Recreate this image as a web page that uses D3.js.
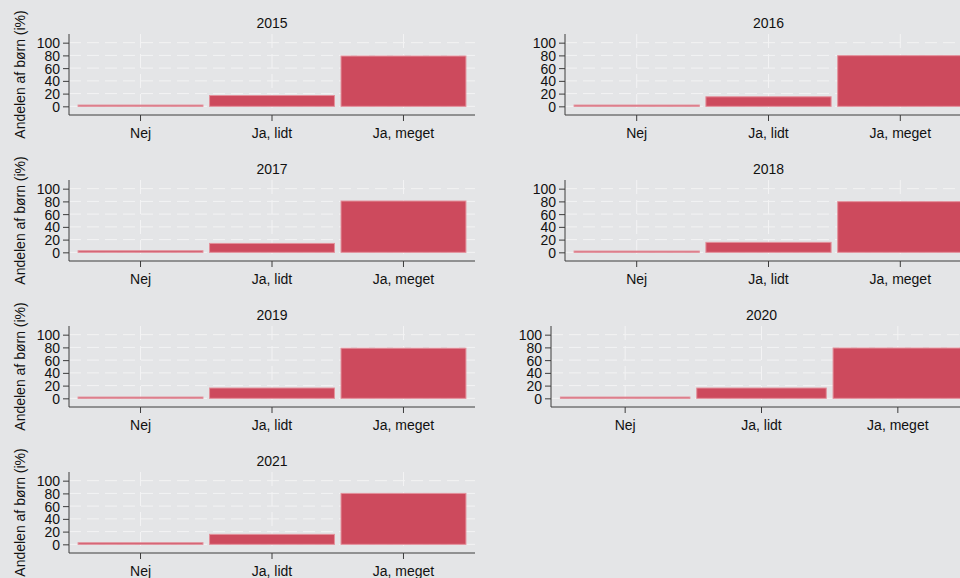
<!DOCTYPE html>
<html>
<head>
<meta charset="utf-8">
<script src="https://cdn.jsdelivr.net/npm/d3@7/dist/d3.min.js"></script>
<style>
  html, body { margin: 0; padding: 0; background: #e4e5e7; }
  svg { display: block; font-family: "Liberation Sans", Arial, sans-serif; }
</style>
</head>
<body>
<div id="chart"></div>
<script>
// ---- data ----
var years = [2015, 2016, 2017, 2018, 2019, 2020, 2021];
var categories = ["Nej", "Ja, lidt", "Ja, meget"];
var nejValues = [2, 2, 2.5, 2, 2, 2, 2.5];
var lidtValues = [17, 15, 14, 15.7, 16.2, 16.2, 15.7];
var megetValues = [79, 79.6, 80.6, 79.6, 78.7, 79, 80];
var yTicks = [0, 20, 40, 60, 80, 100];
var yLabel = "Andelen af børn (i%)";

// ---- layout ----
var attrs = {
  width: 960,
  height: 578,
  bg: "#e4e5e7",
  barFill: "#cd4a5d",
  barStroke: "#e3909b",
  axisColor: "#3c3c3c",
  gridColor: "#f3f3f4",
  panelTop: 34,
  rowStep: 146,
  panelHeight: 81,
  colLeft: [69, 565],
  colRight: [475, 972],
  leftOverride: { 2020: 551 },
  fontSize: 14
};

var svg = d3.select("#chart").append("svg")
  .attr("width", attrs.width)
  .attr("height", attrs.height);

svg.append("rect")
  .attr("width", attrs.width)
  .attr("height", attrs.height)
  .attr("fill", attrs.bg);

years.forEach(function (year, i) {
  var col = i % 2;
  var row = Math.floor(i / 2);
  var left = attrs.leftOverride[year] || attrs.colLeft[col];
  var right = attrs.colRight[col];
  var top = attrs.panelTop + row * attrs.rowStep;
  var bottom = top + attrs.panelHeight;
  var values = [nejValues[i], lidtValues[i], megetValues[i]];

  var x = d3.scaleBand()
    .domain(categories)
    .range([left, right])
    .paddingInner(0.05)
    .paddingOuter(0.069);

  var y = d3.scaleLinear()
    .domain([-13.6, 113.6])
    .range([bottom, top]);

  var g = svg.append("g").attr("class", "panel panel-" + year);

  // grid
  g.append("g").attr("class", "hgrid")
    .selectAll("line").data(yTicks).join("line")
    .attr("x1", left).attr("x2", right)
    .attr("y1", function (d) { return y(d); })
    .attr("y2", function (d) { return y(d); })
    .attr("stroke", attrs.gridColor)
    .attr("stroke-width", 1)
    .attr("stroke-dasharray", "12,6");

  g.append("g").attr("class", "vgrid")
    .selectAll("line").data(categories).join("line")
    .attr("x1", function (d) { return x(d) + x.bandwidth() / 2; })
    .attr("x2", function (d) { return x(d) + x.bandwidth() / 2; })
    .attr("y1", top).attr("y2", bottom)
    .attr("stroke", attrs.gridColor)
    .attr("stroke-width", 1)
    .attr("stroke-dasharray", "14,6");

  // bars
  g.append("g").attr("class", "bars")
    .selectAll("rect").data(values).join("rect")
    .attr("x", function (d, j) { return x(categories[j]); })
    .attr("width", x.bandwidth())
    .attr("y", function (d) { return y(d); })
    .attr("height", function (d) { return y(0) - y(d); })
    .attr("fill", attrs.barFill)
    .attr("stroke", attrs.barStroke)
    .attr("stroke-width", 1);

  // axes
  var yAxis = d3.axisLeft(y).tickValues(yTicks).tickSize(6).tickPadding(3);
  var ya = g.append("g")
    .attr("transform", "translate(" + left + ",0)")
    .call(yAxis);

  var xAxis = d3.axisBottom(x).tickSize(6).tickPadding(7);
  var xa = g.append("g")
    .attr("transform", "translate(0," + bottom + ")")
    .call(xAxis);

  [ya, xa].forEach(function (a) {
    a.select(".domain").remove();
    a.selectAll(".tick line").attr("stroke", attrs.axisColor);
    a.selectAll(".tick text")
      .attr("fill", "#111")
      .style("font-size", attrs.fontSize + "px")
      .style("font-family", "'Liberation Sans', Arial, sans-serif");
  });
  ya.selectAll(".tick text").attr("dy", "0.36em");

  g.append("line")
    .attr("x1", left).attr("x2", left)
    .attr("y1", top).attr("y2", bottom)
    .attr("stroke", attrs.axisColor);
  g.append("line")
    .attr("x1", left).attr("x2", right)
    .attr("y1", bottom).attr("y2", bottom)
    .attr("stroke", attrs.axisColor);

  // title
  g.append("text")
    .attr("x", (left + right) / 2)
    .attr("y", top - 6)
    .attr("text-anchor", "middle")
    .attr("fill", "#111")
    .style("font-size", attrs.fontSize + "px")
    .text(year);

  // y label on left column only
  if (col === 0) {
    g.append("text")
      .attr("transform", "translate(25," + (top + bottom) / 2 + ") rotate(-90)")
      .attr("text-anchor", "middle")
      .attr("fill", "#111")
      .style("font-size", attrs.fontSize + "px")
      .text(yLabel);
  }
});
</script>
</body>
</html>
